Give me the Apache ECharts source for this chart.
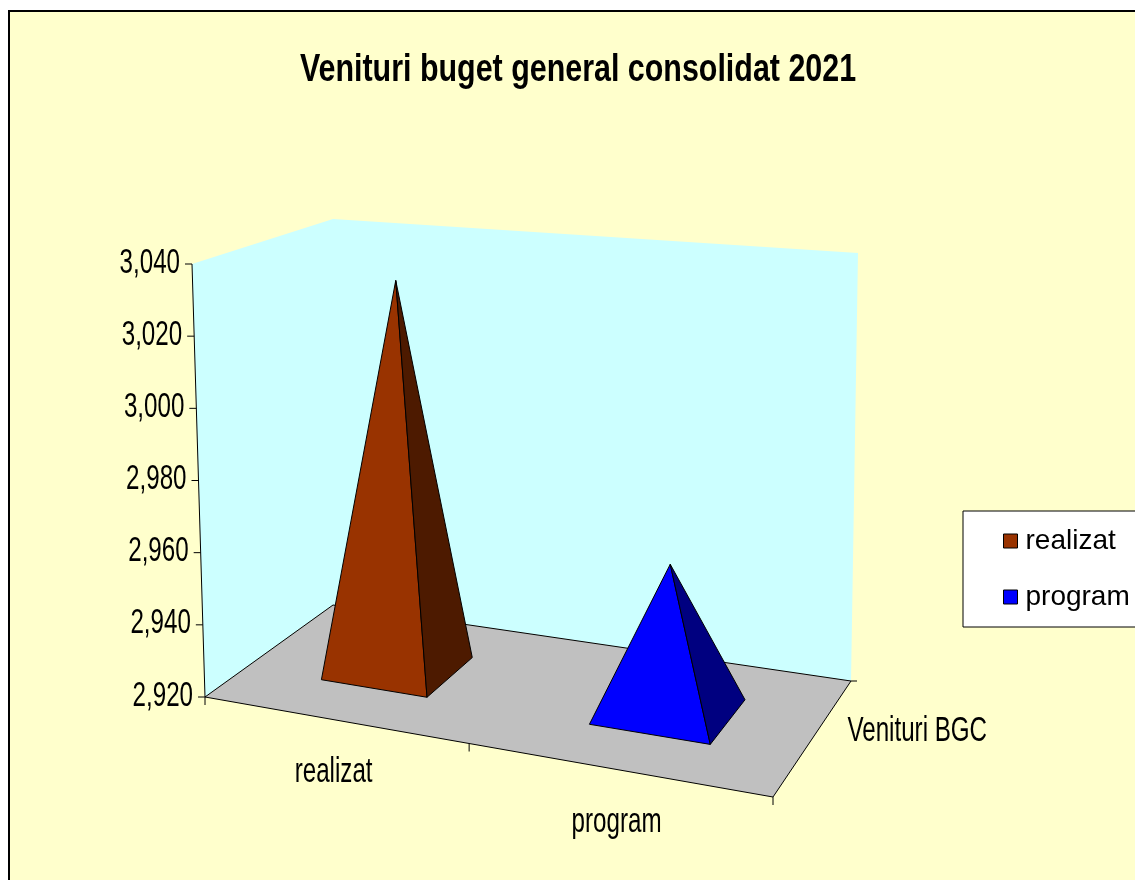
<!DOCTYPE html>
<html>
<head>
<meta charset="utf-8">
<script src="https://cdn.jsdelivr.net/npm/echarts@6/dist/echarts.min.js"></script>
<style>
html,body{margin:0;padding:0;background:#ffffff;}
#c{width:1135px;height:880px;}
</style>
</head>
<body>
<div id="c"></div>
<script>
// ---------------- data ----------------
const titleText = 'Venituri buget general consolidat 2021';
const categories = ['realizat', 'program'];
const realizatValues = [3031];
const programValues = [2960];
const seriesLabel = 'Venituri BGC';
const yTickValues = [2920, 2940, 2960, 2980, 3000, 3020, 3040];
const yTickLabels = ['2,920', '2,940', '2,960', '2,980', '3,000', '3,020', '3,040'];
const yMin = 2920;
const yMax = 3040;

// ---------------- 3D box layout (perspective projection) ----------------
// floor corners (u along categories, w along depth)
const F00 = [205, 697], F10 = [773, 797], F11 = [851, 681], F01 = [333, 605];
// top corners (value = max)
const T00 = [192, 264], T10 = [791, 312], T11 = [858, 253], T01 = [333, 219];

function makeHomography(p0, p1, p2, p3) {
  const dx1 = p1[0] - p2[0], dx2 = p3[0] - p2[0], dx3 = p0[0] - p1[0] + p2[0] - p3[0];
  const dy1 = p1[1] - p2[1], dy2 = p3[1] - p2[1], dy3 = p0[1] - p1[1] + p2[1] - p3[1];
  const det = dx1 * dy2 - dx2 * dy1;
  const g = (dx3 * dy2 - dx2 * dy3) / det, h = (dx1 * dy3 - dx3 * dy1) / det;
  const a = p1[0] - p0[0] + g * p1[0], b = p3[0] - p0[0] + h * p3[0], c = p0[0];
  const d = p1[1] - p0[1] + g * p1[1], e = p3[1] - p0[1] + h * p3[1], f = p0[1];
  return function (u, w) {
    const z = g * u + h * w + 1;
    return [(a * u + b * w + c) / z, (d * u + e * w + f) / z];
  };
}
const floorH = makeHomography(F00, F10, F11, F01);
const topH = makeHomography(T00, T10, T11, T01);
function P(u, w, v) {
  const f = floorH(u, w), t = topH(u, w);
  return [f[0] + (t[0] - f[0]) * v, f[1] + (t[1] - f[1]) * v];
}

const FONT = 'Liberation Sans';
const SX = 0.69;
function txt(str, pt, align, vAlign) {
  return {
    type: 'text', x: pt[0], y: pt[1], scaleX: SX,
    style: { text: str, x: 0, y: 0, align: align, verticalAlign: vAlign,
      fontFamily: FONT, fontSize: 35, fill: '#000' }
  };
}
function line(a, b) {
  return { type: 'line', shape: { x1: a[0], y1: a[1], x2: b[0], y2: b[1] },
    style: { stroke: '#000', lineWidth: 1 } };
}
function poly(pts, fill, stroke) {
  return { type: 'polygon', shape: { points: pts },
    style: { fill: fill, stroke: stroke || null, lineWidth: 1, lineJoin: 'round' } };
}
function toU(params, api, cat) {
  const cs = params.coordSys;
  return (api.coord([cat, yMin])[0] - cs.x) / cs.width;
}
function toV(params, api, val) {
  const cs = params.coordSys;
  return (cs.y + cs.height - api.coord([0, val])[1]) / cs.height;
}

function renderFrame(params, api) {
  const ch = [];
  // left side wall
  ch.push(poly([P(0, 0, 0), P(0, 1, 0), P(0, 1, 1), P(0, 0, 1)], '#CCFFFF'));
  // back wall
  ch.push(poly([P(0, 1, 0), P(1, 1, 0), P(1, 1, 1), P(0, 1, 1)], '#CCFFFF'));
  // floor
  ch.push(poly([P(0, 0, 0), P(1, 0, 0), P(1, 1, 0), P(0, 1, 0)], '#C0C0C0'));
  // floor edges
  ch.push(line(P(0, 0, 0), P(1, 0, 0)));
  ch.push(line(P(0, 0, 0), P(0, 1, 0)));
  ch.push(line(P(0, 1, 0), P(1, 1, 0)));
  ch.push(line(P(1, 0, 0), P(1, 1, 0)));
  // value axis line
  ch.push(line(P(0, 0, 0), P(0, 0, 1)));
  // value ticks + labels
  yTickValues.forEach(function (val, i) {
    const v = toV(params, api, val);
    const p = P(0, 0, v);
    ch.push(line([p[0] - 7, p[1]], p));
    ch.push(txt(yTickLabels[i], [p[0] - 12, p[1] - 1], 'right', 'middle'));
  });
  // category ticks along front edge
  const band = api.size([1, 0])[0] / params.coordSys.width;
  for (let k = 0; k <= categories.length; k++) {
    const p = P(k * band, 0, 0);
    ch.push(line(p, [p[0], p[1] + 8]));
  }
  // category labels
  categories.forEach(function (name, i) {
    const u = toU(params, api, i);
    const p = P(u, 0, 0);
    ch.push(txt(name, [p[0] + 1, p[1] + 53], 'center', 'middle'));
  });
  // depth axis tick + series label
  const br = P(1, 1, 0);
  ch.push(line(br, [br[0] + 6, br[1]]));
  const mid = P(1, 0.5, 0);
  ch.push(txt(seriesLabel, [mid[0] + 33, mid[1] - 4], 'left', 'middle'));
  return { type: 'group', children: ch };
}

function makePyramid(frontColor, sideColor) {
  return function (params, api) {
    const u = toU(params, api, api.value(0)) + 0.005;
    const v = toV(params, api, api.value(1));
    const band = api.size([1, 0])[0] / params.coordSys.width;
    const du = band * 0.205, wc = 0.5, dw = 0.2;
    const apex = P(u, wc, v);
    const fl = P(u - du, wc - dw, 0), fr = P(u + du, wc - dw, 0), br = P(u + du, wc + dw, 0);
    return {
      type: 'group',
      children: [
        poly([fl, fr, apex], frontColor, '#000'),
        poly([fr, br, apex], sideColor, '#000')
      ]
    };
  };
}

const chart = echarts.init(document.getElementById('c'), null, { renderer: 'canvas' });
chart.setOption({
  animation: false,
  backgroundColor: '#ffffff',
  graphic: {
    elements: [{
      type: 'rect', z: 0, silent: true,
      shape: { x: 9, y: 11, width: 1300, height: 1000 },
      style: { fill: '#FFFFCC', stroke: '#000', lineWidth: 2 }
    }, {
      type: 'text', z: 10, silent: true,
      x: 578, y: 70, scaleX: 0.78,
      style: { text: titleText, x: 0, y: 0, align: 'center', verticalAlign: 'middle',
        fontFamily: 'Liberation Sans', fontWeight: 'bold', fontSize: 39, fill: '#000' }
    }]
  },
  legend: {
    orient: 'vertical', left: 963, top: 511,
    padding: [16, 40, 16, 40], itemGap: 28, itemWidth: 14, itemHeight: 14,
    backgroundColor: '#ffffff', borderColor: '#000', borderWidth: 1,
    icon: 'rect',
    textStyle: { fontFamily: 'Liberation Sans', fontSize: 28, color: '#000', padding: [0, 0, 0, 3] },
    data: [
      { name: 'realizat', itemStyle: { color: '#993300', borderColor: '#000', borderWidth: 1 } },
      { name: 'program', itemStyle: { color: '#0000FF', borderColor: '#000', borderWidth: 1 } }
    ]
  },
  grid: { left: 205, right: 1135 - 773, top: 264, bottom: 880 - 697 },
  xAxis: { type: 'category', data: categories, show: false },
  yAxis: { type: 'value', min: yMin, max: yMax, interval: 20, show: false },
  series: [
    { name: 'frame', type: 'custom', z: 1, silent: true, data: [[0, yMin]], renderItem: renderFrame },
    { name: 'realizat', type: 'custom', z: 3, itemStyle: { color: '#993300' },
      data: realizatValues.map(function (v) { return [0, v]; }),
      renderItem: makePyramid('#993300', '#4D1A00') },
    { name: 'program', type: 'custom', z: 3, itemStyle: { color: '#0000FF' },
      data: programValues.map(function (v) { return [1, v]; }),
      renderItem: makePyramid('#0000FF', '#000080') }
  ]
});
</script>
</body>
</html>
